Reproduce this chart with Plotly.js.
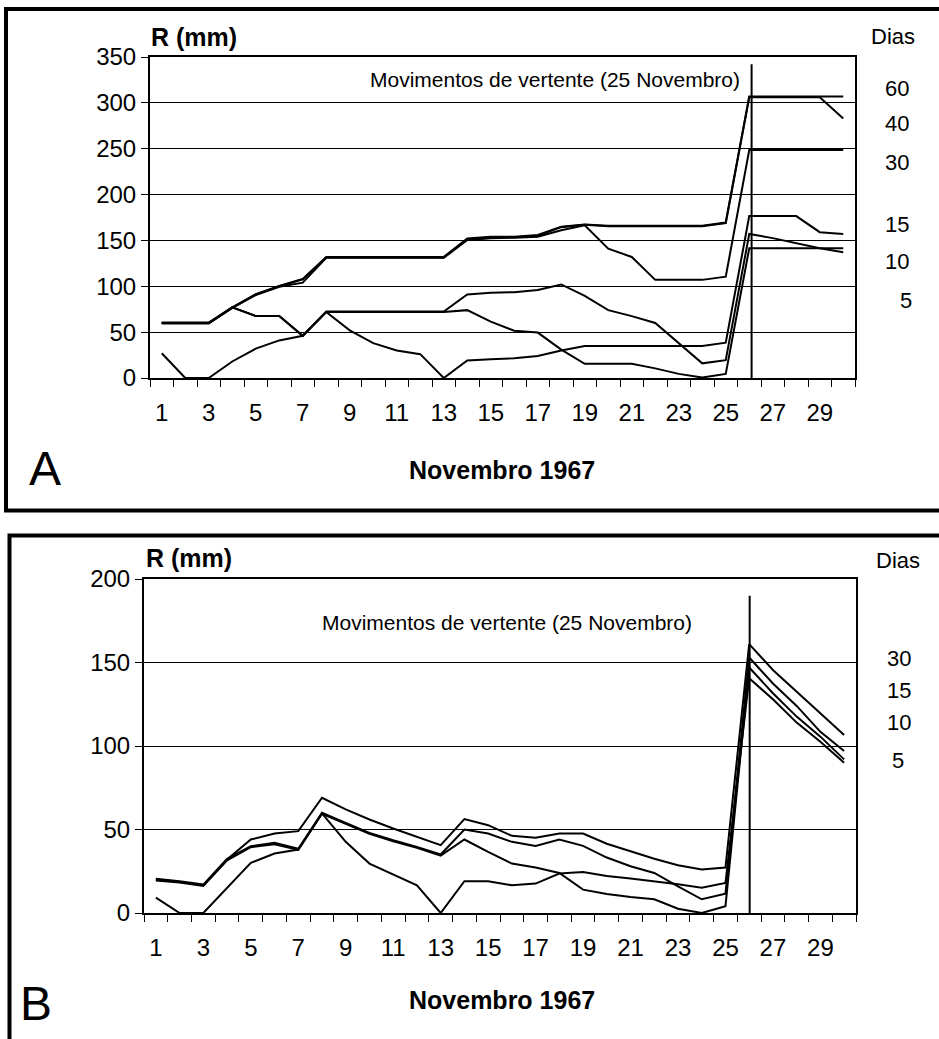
<!DOCTYPE html>
<html>
<head>
<meta charset="utf-8">
<script src="https://cdn.plot.ly/plotly-3.0.1.min.js"></script>
<style>
  html, body { margin: 0; padding: 0; background: #fff; }
  #grafico { width: 939px; height: 1039px; }
</style>
</head>
<body>
<div id="grafico"></div>
<script>
// Dias de Novembro de 1967
const dias = [1,2,3,4,5,6,7,8,9,10,11,12,13,14,15,16,17,18,19,20,21,22,23,24,25,26,27,28,29,30];
const rotulosX = ['1','3','5','7','9','11','13','15','17','19','21','23','25','27','29'];

// A: precipitação acumulada (mm) por período de dias
const a60 = [60.5,60.5,60.5,77,91.5,100.5,108,132,132,132,132,132,132,152,154,154,156,165,167.5,166,166,166,166,166,169.5,307,307,307,307,307];
const a40 = [60,60,60,76.5,91,100,107.5,131.5,131.5,131.5,131.5,131.5,131.5,151,153,153.5,155,164.5,167,165.5,165.5,165.5,165.5,165.5,169,306,306,306,306,283];
const a30 = [59.5,59.5,59.5,76.5,90.5,99.5,104,131,131,131,131,131,131,150.5,152.5,153,154,161,166.5,141,132,107,107,107,110.5,248.5,248.5,248.5,248.5,248.5];
const a15 = [27,0,0,18,32,41,46,72,52,38,30,26,0,19,20.5,21.5,24,30,35,35,35,35,35,35,38.5,176.5,176.5,176.5,159,157];
const a10 = [60,60,60,77,67.5,67.5,46,72.5,72.5,72.5,72.5,72.5,72.5,91,93,93.5,96,102,89.5,74,67.5,60,38,16,19.5,157,152.5,147,141.5,137];
const a5  = [60,60,60,77,67.5,67.5,46,72,72,72,72,72,72,74,61.5,51.5,49.5,31,15.5,15.5,15.5,10.5,4.5,0.5,4.5,141.5,141.5,141.5,141.5,141.5];
const rotulosA = ['60','40','30','15','10','5'];

// B: índices para 30, 15, 10 e 5 dias
const b30 = [20,18.6,16.6,32,44,47.6,49,69,62,56,50.6,45.6,40.6,56.2,52.6,46.2,45,47.6,47.6,41.5,37,32.5,28.6,26,27.2,161,145.5,132.5,119.5,106.6];
const b15 = [20.5,19,17,32.5,40,42,38.5,60,54,48,43.6,39.6,35,50,47.6,42.6,40.2,44,40.2,33.2,28,24,16,8.2,11.6,153,137.4,124,108.5,97];
const b10 = [19.5,18.2,16.2,31.5,39.4,41.2,37.8,59.4,53.4,47.4,43,39,34.4,44,36.6,29.6,27.2,24,14,11.4,9.6,8.2,2.6,0,4,147,131.6,117.6,105.6,92];
const b5  = [9.2,0,0,15,30,35.6,38,59.6,42.6,29.6,23.2,16.6,0,19,19,16.6,17.6,23.6,24.6,22.2,20.6,19,17.2,15.2,18,140.6,128,114,102.6,90];
const rotulosB = ['30','15','10','5'];

// Dia dos movimentos de vertente (linha vertical)
const diaEvento = 26.1;

const W = 939, H = 1039;
const px = x => x / W;
const py = y => 1 - y / H;
const FONTE = 'Liberation Sans, Arial, sans-serif';
const PRETO = '#000';

function serie(y, xa, ya) {
  return { x: dias, y: y, xaxis: xa, yaxis: ya, type: 'scatter', mode: 'lines',
           line: { color: PRETO, width: 2 }, hoverinfo: 'skip' };
}

// a última série de cada painel usa o eixo x dos rótulos (mesma escala, sobreposto)
const traces = [
  ...[a60, a40, a30, a15, a10].map(s => serie(s, 'x', 'y')),
  serie(a5, 'x3', 'y'),
  ...[b30, b15, b10].map(s => serie(s, 'x2', 'y2')),
  serie(b5, 'x4', 'y2')
];

const impares = dias.filter(d => d % 2 === 1);
const limites = dias.map(d => d - 0.5).concat([dias[dias.length - 1] + 0.5]);

// eixo com as marcas entre dias, a linha e a moldura da área do gráfico
function eixoMarcas(dom, anchor) {
  return {
    domain: dom, anchor: anchor, range: [0.5, 30.5],
    tickmode: 'array', tickvals: limites, showticklabels: false,
    ticks: 'outside', ticklen: 7, tickwidth: 1, tickcolor: PRETO,
    showgrid: false, zeroline: false,
    showline: true, linecolor: PRETO, linewidth: 2, mirror: true,
    fixedrange: true
  };
}
// eixo sobreposto com os rótulos dos dias ímpares
function eixoRotulos(base, anchor) {
  return {
    overlaying: base, anchor: anchor, side: 'bottom', range: [0.5, 30.5],
    tickmode: 'array', tickvals: impares, ticktext: rotulosX,
    ticks: 'outside', ticklen: 13, tickcolor: 'rgba(0,0,0,0)',
    tickfont: { family: FONTE, size: 24, color: PRETO },
    showgrid: false, zeroline: false, showline: false,
    fixedrange: true
  };
}
function eixoY(dom, anchor, maximo) {
  return {
    domain: dom, anchor: anchor, range: [0, maximo],
    tick0: 0, dtick: 50,
    ticks: 'outside', ticklen: 7, tickwidth: 1, tickcolor: PRETO,
    tickfont: { family: FONTE, size: 24, color: PRETO },
    showgrid: true, gridcolor: PRETO, gridwidth: 1, zeroline: false,
    showline: true, linecolor: PRETO, linewidth: 2, mirror: true,
    fixedrange: true
  };
}

function texto(t, x, y, tam, extra) {
  return Object.assign({ text: t, xref: 'paper', yref: 'paper', x: px(x), y: py(y),
    xanchor: 'center', yanchor: 'middle', showarrow: false,
    font: { family: FONTE, size: tam, color: PRETO } }, extra || {});
}

const anotacoes = [
  texto('<b>R (mm)</b>', 194, 37, 25),
  texto('Dias', 893, 37, 22),
  texto('Movimentos de vertente (25 Novembro)', 555, 79, 21),
  texto('<b>Novembro 1967</b>', 502, 470, 25),
  texto('A', 45, 468, 48),
  texto('<b>R (mm)</b>', 189, 558, 25),
  texto('Dias', 898, 560, 22),
  texto('Movimentos de vertente (25 Novembro)', 507, 622, 21),
  texto('<b>Novembro 1967</b>', 502, 1000, 25),
  texto('B', 36, 1003, 48)
];
const posA = [[897, 88], [897, 123], [897, 163], [897, 225], [897, 262], [906, 300]];
rotulosA.forEach((t, i) => anotacoes.push(texto(t, posA[i][0], posA[i][1], 22)));
const posB = [[899, 658], [899, 690], [899, 722], [898, 760]];
rotulosB.forEach((t, i) => anotacoes.push(texto(t, posB[i][0], posB[i][1], 22)));

const formas = [
  // linha do evento
  { type: 'line', xref: 'x', yref: 'y', x0: diaEvento, x1: diaEvento, y0: 0, y1: 342,
    line: { color: PRETO, width: 2 } },
  { type: 'line', xref: 'x2', yref: 'y2', x0: diaEvento - 0.08, x1: diaEvento - 0.08, y0: 0, y1: 190,
    line: { color: PRETO, width: 2 } },
  // molduras dos painéis
  { type: 'rect', xref: 'paper', yref: 'paper', x0: px(6), x1: 1.1, y0: py(510.5), y1: py(9),
    line: { color: PRETO, width: 4 } },
  { type: 'rect', xref: 'paper', yref: 'paper', x0: px(9.5), x1: 1.1, y0: -0.1, y1: py(535.5),
    line: { color: PRETO, width: 4 } }
];

const layout = {
  width: W, height: H,
  margin: { l: 0, r: 0, t: 0, b: 0, pad: 0 },
  paper_bgcolor: '#fff', plot_bgcolor: '#fff',
  showlegend: false,
  xaxis: eixoMarcas([px(150), px(855)], 'y'),
  yaxis: eixoY([py(378), py(57)], 'x', 350),
  xaxis2: eixoMarcas([px(144), px(856)], 'y2'),
  yaxis2: eixoY([py(913), py(579)], 'x2', 200),
  xaxis3: eixoRotulos('x', 'y'),
  xaxis4: eixoRotulos('x2', 'y2'),
  annotations: anotacoes,
  shapes: formas
};

Plotly.newPlot('grafico', traces, layout, { staticPlot: true, displayModeBar: false });
</script>
</body>
</html>
